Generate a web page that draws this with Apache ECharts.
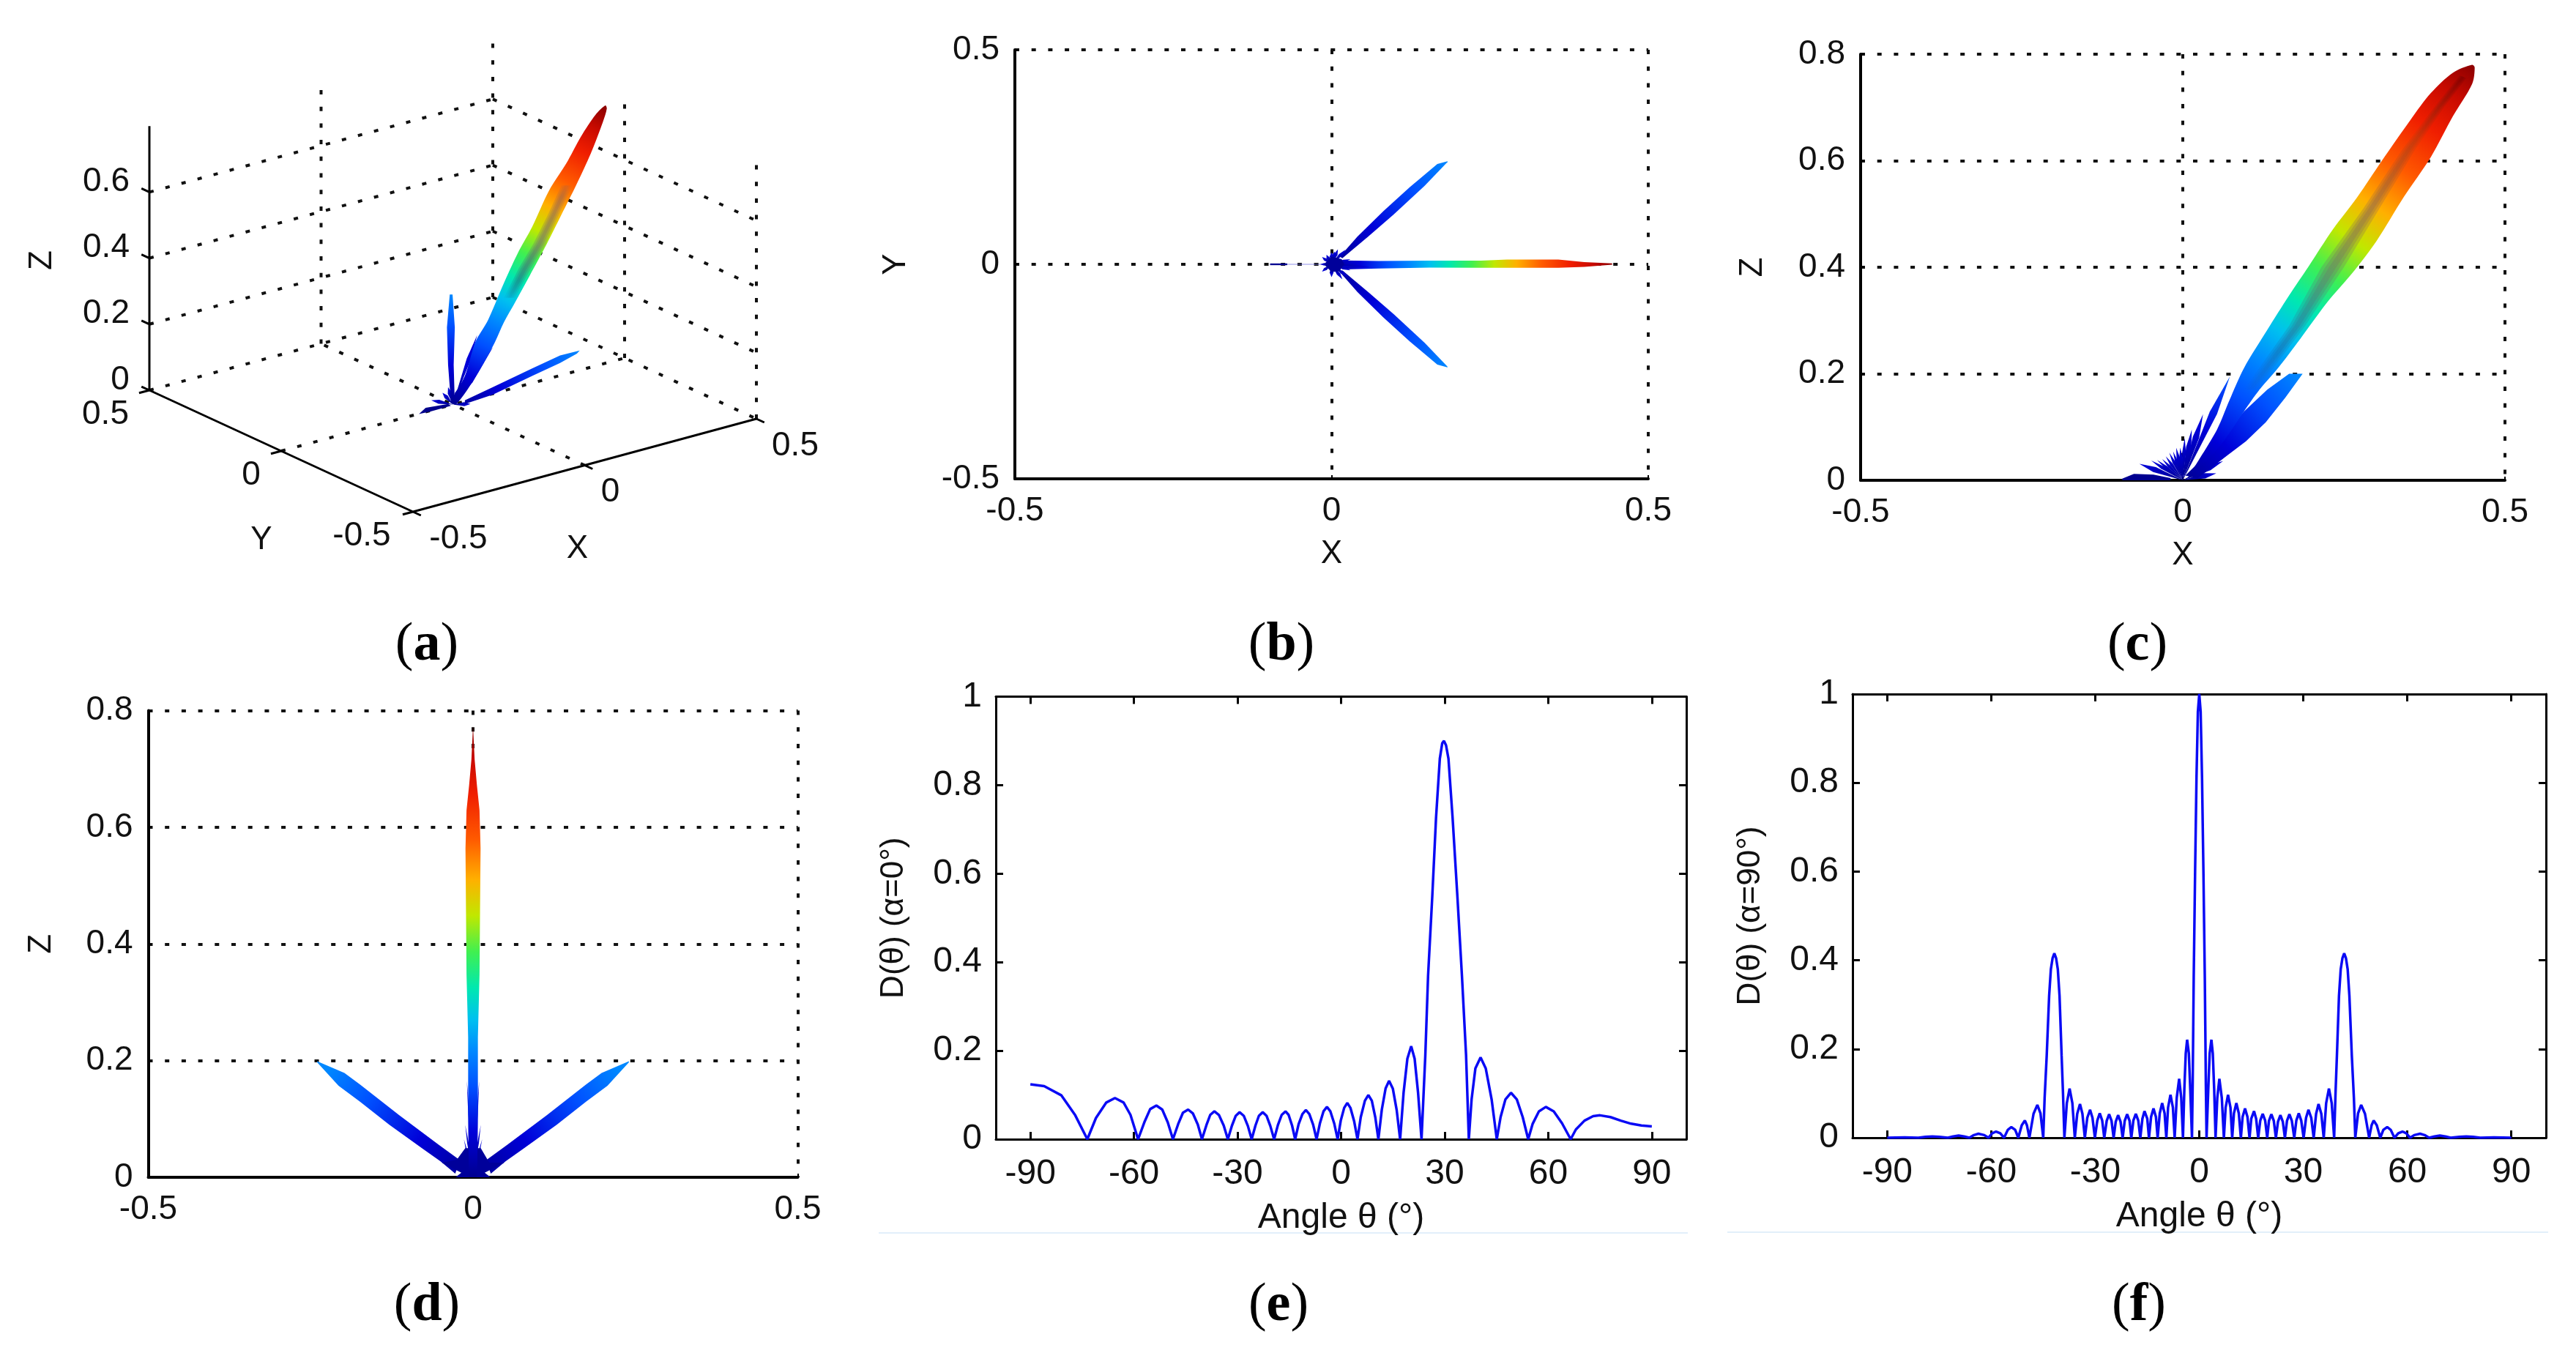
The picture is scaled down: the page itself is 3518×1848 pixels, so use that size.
<!DOCTYPE html>
<html><head><meta charset="utf-8">
<style>html,body{margin:0;padding:0;background:#fff}#c{width:3518px;height:1848px}</style>
<script src="https://cdn.jsdelivr.net/npm/echarts@6/dist/echarts.min.js"></script>
</head><body><div id="c"></div>
<script>
// ---- tick values ----
const ticksXY = [-0.5, 0, 0.5];
const ticksZ3d = [0, 0.2, 0.4, 0.6];
const ticksAngle = [-90, -60, -30, 0, 30, 60, 90];
const captions = ['a', 'b', 'c', 'd', 'e', 'f'];

// ---- jet colour map (value, colour) ----
const jetPos = [0, .1, .2, .28, .35, .42, .5, .58, .66, .75, .85, .93, 1];
const jetCol = ['#000090', '#0000d8', '#0050ff', '#0088ff', '#00c0f0', '#00e8b0', '#40f050', '#c0e800', '#ffb000', '#ff5a00', '#f01e00', '#c80a00', '#8c0000'];

// ---- (e) D(theta), alpha = 0 ----
const thetaE = [-90,-86,-81,-77,-73.5,-71,-68,-65.5,-63,-61,-58.8,-57,-55.3,-53.5,-51.8,-50.2,-48.7,-47.2,-45.8,-44.3,-42.9,-41.5,-40.3,-39,-37.9,-36.7,-35.4,-34,-32.8,-31.6,-30.5,-29.4,-28.2,-27,-25.9,-24.8,-23.8,-22.7,-21.6,-20.5,-19.4,-18.3,-17.2,-16.1,-15.2,-14.2,-13.3,-12.3,-11.2,-10.2,-9.2,-8.1,-7.1,-6.1,-5.1,-4.1,-3.1,-2,-1,-.1,.9,1.8,2.7,3.8,4.75,5.7,6.9,7.9,8.9,9.9,10.8,11.8,12.9,13.9,15,16.1,17.1,18.1,19.2,20.3,21.3,22.3,23.3,24.4,25.2,26.4,27.5,28.6,29.3,29.8,30.4,31.1,32.3,33.7,35,36.2,37,37.8,38.9,40.4,41.9,43.6,45.1,46.2,47.6,49.2,50.9,52.6,54.2,55.5,57.3,59.3,61.6,64,66.5,68,70.5,73,75,78,81,84,87,90];
const valueE = [.124,.12,.099,.054,0,.048,.083,.093,.083,.055,0,.038,.068,.076,.067,.038,0,.034,.06,.067,.058,.033,0,.032,.055,.063,.055,.031,0,.031,.053,.061,.053,.03,0,.031,.053,.061,.053,.03,0,.032,.055,.063,.055,.031,0,.034,.057,.066,.057,.033,0,.037,.063,.073,.063,.036,0,.042,.071,.082,.071,.04,0,.05,.087,.1,.087,.05,0,.067,.115,.132,.114,.066,0,.105,.182,.21,.182,.105,0,.19,.37,.547,.726,.86,.895,.9,.89,.86,.726,.547,.37,.19,0,.09,.16,.185,.16,.09,0,.05,.09,.105,.09,.05,0,.035,.063,.073,.063,.036,0,.022,.042,.052,.054,.05,.042,.035,.031,.029];

// ---- (f) D(theta), alpha = 90 : right half, the picture is symmetric ----
const thetaFRight = [0,.4,.8,1.2,1.6,1.9,2.1,2.6,3,3.5,3.9,4.3,4.7,5.2,5.8,6.5,7.1,7.6,8.3,9,9.5,10,10.7,11.4,12,12.5,13.2,13.9,14.5,15,15.8,16.4,17,17.6,18.3,19,19.6,20.1,20.8,21.5,22.1,22.7,23.4,24.1,24.7,25.3,26,26.7,27.4,28,28.7,29.4,30.1,30.8,31.5,32.3,33,33.7,34.4,35.2,35.9,36.6,37.4,38.2,38.9,39.3,39.7,40.3,40.8,41.3,41.8,42.3,42.8,43.3,44,44.6,45,45.8,46.7,47.8,49,49.7,50.3,51.2,52.2,53.1,54.2,55.2,56.3,57.4,58.6,59.7,60.8,62,63.7,65,66.3,67.8,69.4,71,72.5,75,77,79,81,85,90];
const valueFRight = [1,.96,.81,.6,.36,.12,0,.11,.19,.221,.19,.11,0,.09,.133,.09,0,.068,.097,.068,0,.055,.078,.055,0,.047,.066,.047,0,.043,.06,.043,0,.039,.054,.039,0,.038,.053,.038,0,.036,.051,.036,0,.038,.053,.038,0,.039,.055,.039,0,.045,.063,.045,0,.054,.076,.054,0,.078,.111,.078,0,.1,.185,.32,.38,.405,.4155,.405,.38,.32,.185,.09,0,.055,.074,.054,0,.028,.039,.028,0,.018,.024,.018,0,.01,.014,.01,0,.006,.009,.006,0,.003,.005,.003,0,.002,.003,.002,0,.001,0];

// ---- (c) X-Z outline of the lobes, tip to base ----
const cMainLeftX = [.449,.419,.385,.353,.309,.271,.233,.195,.165,.131,.0947,.072,.053,.0076];
const cMainLeftZ = [.78,.765,.727,.676,.6,.532,.471,.401,.347,.282,.21,.149,.095,.0037];
const cMainRightX = [.453,.449,.419,.385,.343,.301,.267,.224,.182,.148,.119,.0947,.055,.013];
const cMainRightZ = [.775,.744,.683,.607,.532,.45,.395,.334,.265,.211,.17,.129,.06,.009];
const cCoreLeftX = [.43,.39,.34,.28,.215,.165,.095];
const cCoreLeftZ = [.76,.7,.62,.51,.4,.29,.17];
const cCoreRightX = [.44,.405,.36,.305,.25,.19,.115];
const cCoreRightZ = [.755,.7,.62,.51,.4,.29,.17];
const cSideUpperX = [.165,.131,.0947,.047,.004];
const cSideUpperZ = [.2,.17,.129,.06,.009];
const cSideLowerX = [.186,.159,.1288,.098,.068,.0379,.0227];
const cSideLowerZ = [.2,.155,.109,.0733,.0458,.0174,.0037];
const cSpikeX = [.0731,.0314,.014,.003,-.004,-.0102,-.015,-.021,-.0265,-.032,-.04,-.049,-.0674,.0625,.052];
const cSpikeZ = [.1948,.1242,.0953,.0793,.061,.061,.054,.052,.045,.04,.038,.037,.031,.036,.013];
const cSpikeHalf = [.006,.005,.004,.003,.003,.003,.0025,.0025,.0025,.0025,.0025,.003,.005,.005,.005];
const cBackX = [-.094,-.0758,-.0455,-.019,-.019,-.094];
const cBackZ = [.003,.012,.0105,.004,0,0];

// ---- (b) X-Y outline ----
const bMainX = [.017,.074,.155,.236,.277,.358,.399,.443];
const bMainTop = [.009,.0076,.0085,.0085,.011,.011,.005,.002];
const bMainBottom = [-.012,-.01,-.0076,-.008,-.008,-.008,-.006,-.001];
const bSideLeftX = [.183,.167,.123,.082,.041,.013];
const bSideLeftY = [.24,.234,.179,.124,.065,.018];
const bSideRightX = [.183,.175,.147,.098,.058,.017];
const bSideRightY = [.2385,.226,.183,.116,.065,.014];
const bSpikeX = [.03,.03,-.015,-.018,-.015,.01,.017,.005,.022,.026,0,0,.032,-.008,.04,.06];
const bSpikeY = [.012,-.014,.017,0,-.017,.035,-.035,.03,.034,-.03,-.03,.028,-.006,.022,.006,-.006];
const bBlobX = [-.012,0,.016,.02,.012,0];
const bBlobY = [0,.018,.012,0,-.016,-.018];
const bBackX = [-.097,-.07];

// ---- (d) Y-Z outline ----
const dMainZ = [.773,.716,.672,.629,.564,.456,.348,.24,.168,.096,.024,0];
const dMainHalf = [0,.0025,.006,.01,.0116,.0108,.01,.0075,.0075,.0075,.0066,.006];
const dSideUpperY = [.24,.198,.174,.1139,.0537,.02];
const dSideUpperZ = [.199,.179,.159,.1067,.0565,.0293];
const dSideLowerY = [.24,.207,.174,.1289,.0763,.05,.0274];
const dSideLowerZ = [.197,.157,.1297,.09,.0481,.0272,.0063];
const dBaseY = [-.027,-.018,-.048,-.025,-.012,.012,.025,.048,.018,.027];
const dBaseZ = [0,.008,.025,.03,.05,.05,.025,.025,.008,0];
const dThinY = [.0095,.012,.014];
const dThinZ = [.165,.09,.065];

// ---- (a) lobes read in the view plane of the 3-D box, tip to base ----
const aMainLeftU = [.4439,.4154,.3727,.3301,.2804,.2307,.188,.1454,.1028,.065,.0349,-.0058];
const aMainLeftV = [.9058,.8776,.8111,.7299,.6486,.5377,.4564,.3603,.2568,.1881,.0863,.0072];
const aMainRightU = [.4482,.4367,.4012,.3586,.316,.2733,.2235,.1808,.1488,.122,.0676,.0105];
const aMainRightV = [.8962,.8554,.7594,.6634,.5747,.486,.3898,.3086,.2494,.1881,.0863,.0015];
const aCoreLeftU = [.316,.2768,.2342,.1915,.1488];
const aCoreRightU = [.348,.3088,.2698,.2271,.1808];
const aCoreV = [.6634,.5747,.486,.412,.3233];
const aSideAU1 = [-.0091,-.0173,-.014,-.0058];
const aSideAV1 = [.3329,.2334,.1203,.0072];
const aSideAU2 = [-.001,.0056,.0023,.0056];
const aSideAV2 = [.3329,.2334,.1203,.0015];
const aSideBU1 = [.3693,.3122,.2307,.1165,.0349];
const aSideBV1 = [.1633,.1486,.109,.0524,.0128];
const aSideBU2 = [.3611,.3122,.2307,.1165,.0349];
const aSideBV2 = [.1542,.1259,.0864,.0298,.0015];
const aSpikeU = [.0708,.1165,.0806,-.0303,-.0629,.0512,.0186,-.014];
const aSpikeV = [.2108,.1734,.109,.0355,.0128,.0015,.0524,.0524];
const aBackU = [-.0988,-.0792,-.014,-.0058,-.0629];
const aBackV = [-.029,-.0098,.0015,-.004,-.0207];
const zWallTop = 0.78, zAxisTop = 0.8;

// ---- helpers ----
const FONT = '"Liberation Sans", Arial, sans-serif';
const zip = (a, b) => a.map((v, i) => [v, b[i]]);
const outline = (ax, ay, bx, by) => zip(ax, ay).concat(zip(bx, by).reverse());
const neg = a => a.map(v => -v);
function jetStops(maxV) {
  const s = [];
  jetPos.forEach((p, i) => { if (p <= maxV) s.push({ offset: p / maxV, color: jetCol[i] }); });
  return s;
}
function spikes(xs, ys, w, maxScale) {
  return xs.map((x, i) => {
    const y = ys[i], L = Math.hypot(x, y) || 1;
    const hw = Array.isArray(w) ? w[i] : w, nx = -y / L * hw, ny = x / L * hw;
    return {
      pts: [[0, 0], [x * .65 + nx, y * .65 + ny], [x, y], [x * .65 - nx, y * .65 - ny]],
      from: [0, 0], to: [x, y], stops: jetStops(Math.max(L * maxScale, .11))
    };
  });
}
// soft dark core: nested strips between the two edges
function coreLayers(lx, ly, rx, ry, from, to, stops) {
  return [1, .66, .33].map(f => {
    const mix = (a, b, k) => a.map((v, i) => v + (b[i] - v) * k);
    const k = (1 - f) / 2;
    return {
      pts: outline(mix(lx, rx, k), mix(ly, ry, k), mix(rx, lx, k), mix(ry, ly, k)),
      from, to, stops
    };
  });
}
function shapeSeries(idx, shapes) {
  return {
    type: 'custom', coordinateSystem: 'cartesian2d', xAxisIndex: idx.x, yAxisIndex: idx.y,
    silent: true, animation: false, clip: false, z: 5,
    data: shapes.map((s, i) => [i, i]),
    renderItem(params, api) {
      const s = shapes[params.dataIndex];
      const points = s.pts.map(p => api.coord(p));
      let fill = s.fill;
      if (s.from) {
        const a = api.coord(s.from), b = api.coord(s.to);
        fill = new echarts.graphic.LinearGradient(a[0], a[1], b[0], b[1], s.stops, true);
      }
      const shape = { points };
      if (s.smooth) shape.smooth = s.smooth;
      return { type: 'polygon', shape, style: { fill } };
    }
  };
}

// ---- axes ----
const grid = [], xAxis = [], yAxis = [], series = [];
const dashPattern = [6, 16.7];
const dots = { show: true, lineStyle: { color: '#111', width: 4, type: dashPattern } };
const blackLine = { show: true, onZero: false, lineStyle: { color: '#000', width: 4 } };
const labelStyle = { color: '#111', fontFamily: FONT, fontSize: 46 };
function lobePanel(rect, xMin, xMax, yMin, yMax, yStep, yName, yGap, xName) {
  grid.push(rect);
  const gi = grid.length - 1;
  xAxis.push({
    type: 'value', gridIndex: gi, min: xMin, max: xMax, interval: .5, axisLine: blackLine,
    axisTick: { show: true, inside: true, length: 5, lineStyle: { color: '#000', width: 2 } },
    axisLabel: { ...labelStyle, margin: 21 }, splitLine: dots,
    name: xName, nameLocation: 'middle', nameGap: 81,
    nameTextStyle: { color: '#111', fontFamily: FONT, fontSize: 44 }
  });
  yAxis.push({
    type: 'value', gridIndex: gi, min: yMin, max: yMax, interval: yStep, axisLine: blackLine,
    axisTick: { show: true, inside: true, length: 5, lineStyle: { color: '#000', width: 2 } },
    axisLabel: { ...labelStyle, margin: 21 }, splitLine: dots,
    name: yName, nameLocation: 'middle', nameGap: yGap,
    nameTextStyle: { color: '#111', fontFamily: FONT, fontSize: 44 }
  });
  return { x: xAxis.length - 1, y: yAxis.length - 1 };
}
function linePanel(rect, name, xs, ys) {
  grid.push(rect);
  const gi = grid.length - 1;
  const tick = { show: true, inside: true, length: 10, lineStyle: { color: '#000', width: 3 } };
  const x0 = xAxis.length, y0 = yAxis.length;
  const box = { show: true, onZero: false, lineStyle: { color: '#000', width: 3 } };
  xAxis.push({
    type: 'value', gridIndex: gi, position: 'bottom', min: -100, max: 100, axisLine: box,
    axisTick: { ...tick, customValues: ticksAngle },
    axisLabel: { ...labelStyle, fontSize: 48, margin: 24, customValues: ticksAngle }, splitLine: { show: false },
    name: 'Angle θ (°)', nameLocation: 'middle', nameGap: 84,
    nameTextStyle: { color: '#111', fontFamily: FONT, fontSize: 48 }
  }, {
    type: 'value', gridIndex: gi, position: 'top', min: -100, max: 100, axisLine: box,
    axisTick: { ...tick, customValues: ticksAngle }, axisLabel: { show: false }, splitLine: { show: false }
  });
  yAxis.push({
    type: 'value', gridIndex: gi, position: 'left', min: 0, max: 1, interval: .2, axisLine: box,
    axisTick: tick, axisLabel: { ...labelStyle, fontSize: 48, margin: 19 }, splitLine: { show: false },
    name, nameLocation: 'middle', nameGap: 117,
    nameTextStyle: { color: '#111', fontFamily: FONT, fontSize: 44 }
  }, {
    type: 'value', gridIndex: gi, position: 'right', min: 0, max: 1, interval: .2, axisLine: box,
    axisTick: tick, axisLabel: { show: false }, splitLine: { show: false }
  });
  series.push({
    type: 'line', xAxisIndex: x0, yAxisIndex: y0, data: zip(xs, ys), showSymbol: false, symbol: 'none',
    animation: false, silent: true, z: 4, lineStyle: { color: '#0a0af5', width: 3.5 }
  });
}

// ---- (a) hidden view-plane axes with the 3-D box projected onto them ----
const view = (x, y, z) => [x - .7676 * y, .2816 * x + .3681 * y + z];
grid.push({ left: 100, top: 20, width: 1050, height: 760 });
xAxis.push({ type: 'value', gridIndex: 0, show: false, min: -1.10554, max: 1.13326, splitLine: { show: false } });
yAxis.push({ type: 'value', gridIndex: 0, show: false, min: -.50443, max: 1.18071, splitLine: { show: false } });
const solidSeg = [], dotSeg = [];
const seg = (arr, a, b) => arr.push(view(...a), view(...b), ['-', '-']);
seg(solidSeg, [-.5, .5, 0], [-.5, .5, zAxisTop]);
seg(solidSeg, [-.5, .5, 0], [-.5, -.5, 0]);
seg(solidSeg, [-.5, -.5, 0], [.5, -.5, 0]);
ticksZ3d.forEach(z => seg(solidSeg, [-.5, .5, z], [-.5, .53, z]));
ticksXY.forEach(v => { seg(solidSeg, [-.53, v, 0], [-.5, v, 0]); seg(solidSeg, [v, -.53, 0], [v, -.5, 0]); });
ticksZ3d.forEach(z => {
  seg(dotSeg, [-.5, .5, z], [.5, .5, z]);
  seg(dotSeg, [.5, .5, z], [.5, -.5, z]);
});
seg(dotSeg, [-.5, 0, 0], [.5, 0, 0]);
seg(dotSeg, [0, -.5, 0], [0, .5, 0]);
[[0, .5], [.5, .5], [.5, 0], [.5, -.5]].forEach(([x, y]) => seg(dotSeg, [x, y, 0], [x, y, zWallTop]));
const lineCommon = { type: 'line', xAxisIndex: 0, yAxisIndex: 0, showSymbol: false, symbol: 'none', animation: false, silent: true, connectNulls: false };
series.push({ ...lineCommon, data: dotSeg, z: 2, lineStyle: { color: '#111', width: 4, type: dashPattern } });
series.push({ ...lineCommon, data: solidSeg, z: 3, lineStyle: { color: '#000', width: 3 } });
const aTip = [.445, .9];
const coreStopsA = [
  { offset: .34, color: 'rgba(20,70,130,0)' }, { offset: .42, color: 'rgba(40,90,120,.22)' },
  { offset: .56, color: 'rgba(120,110,110,.3)' }, { offset: .7, color: 'rgba(140,90,90,.22)' }, { offset: .76, color: 'rgba(140,90,90,0)' }
];
series.push(shapeSeries({ x: 0, y: 0 }, [
  { pts: zip(aBackU, aBackV), fill: '#00008c' },
  ...spikes(aSpikeU, aSpikeV, .006, .8),
  { pts: outline(aSideAU1, aSideAV1, aSideAU2, aSideAV2), from: [0, 0], to: [-.005, .3329], stops: jetStops(.28) },
  { pts: outline(aSideBU1, aSideBV1, aSideBU2, aSideBV2), from: [0, 0], to: [.369, .16], stops: jetStops(.28) },
  { pts: outline(aMainLeftU, aMainLeftV, aMainRightU, aMainRightV), from: [0, 0], to: aTip, stops: jetStops(1), smooth: .3 },
  ...coreLayers(aCoreLeftU, aCoreV, aCoreRightU, aCoreV, [0, 0], aTip, coreStopsA)
]));
// tick texts and names of the 3-D box
const aTexts = [];
ticksZ3d.forEach(z => aTexts.push({ at: view(-.5, .5, z), dx: z === 0 ? -40 : -59, dy: -14, t: String(z) }));
ticksXY.forEach(v => aTexts.push({ at: view(-.5, v, 0), dx: v < 0 ? -70 : (v === 0 ? -41 : -60), dy: 33, t: String(v) }));
ticksXY.forEach(v => aTexts.push({ at: view(v, -.5, 0), dx: v < 0 ? 62 : (v === 0 ? 35 : 53), dy: 37, t: String(v) }));
aTexts.push({ at: view(-.5, .5, .4), dx: -146, dy: 3, t: 'Z', rot: true, size: 44 });
aTexts.push({ at: view(-.5, 0, 0), dx: -27, dy: 122, t: 'Y', size: 44 });
aTexts.push({ at: view(0, -.5, 0), dx: -10, dy: 114, t: 'X', size: 44 });
series.push({
  type: 'custom', coordinateSystem: 'cartesian2d', xAxisIndex: 0, yAxisIndex: 0, silent: true, animation: false, z: 6, clip: false,
  data: aTexts.map((s, i) => [i, i]),
  renderItem(params, api) {
    const s = aTexts[params.dataIndex], p = api.coord(s.at);
    return {
      type: 'text', x: p[0] + s.dx, y: p[1] + s.dy, rotation: s.rot ? Math.PI / 2 : 0,
      style: { text: s.t, font: (s.size || 46) + 'px ' + FONT, fill: '#111', align: 'center', verticalAlign: 'middle' }
    };
  }
});

// ---- (b) ----
const b = lobePanel({ left: 1386, top: 68, width: 865, height: 586 }, -.5, .5, -.5, .5, .5, 'Y', 140, 'X');
series.push(shapeSeries(b, [
  { pts: [[-.097, .0016], [0, .0016], [0, -.0016], [-.097, -.0016]], fill: 'rgba(110,110,225,.38)' },
  { pts: [[bBackX[0], .002], [bBackX[1], .002], [bBackX[1], -.002], [bBackX[0], -.002]], fill: '#000090' },
  { pts: outline(bSideLeftX, bSideLeftY, bSideRightX, bSideRightY), from: [0, 0], to: [.183, .24], stops: jetStops(.28) },
  { pts: outline(bSideLeftX, neg(bSideLeftY), bSideRightX, neg(bSideRightY)), from: [0, 0], to: [.183, -.24], stops: jetStops(.28) },
  { pts: outline(bMainX, bMainTop, bMainX, bMainBottom), from: [0, 0], to: [.443, 0], stops: jetStops(1) },
  ...spikes(bSpikeX, bSpikeY, .003, 1),
  { pts: zip(bBlobX, bBlobY), fill: '#00009a' }
]));

// ---- (c) ----
const c = lobePanel({ left: 2541, top: 74, width: 880, height: 582 }, -.5, .5, 0, .8, .2, 'Z', 125, 'X');
const coreStopsC = [
  { offset: .2, color: 'rgba(30,90,170,0)' }, { offset: .32, color: 'rgba(30,90,150,.18)' },
  { offset: .5, color: 'rgba(110,110,110,.28)' }, { offset: .66, color: 'rgba(140,100,80,.28)' },
  { offset: .82, color: 'rgba(150,60,20,.16)' }, { offset: .96, color: 'rgba(120,0,0,.26)' }
];
series.push(shapeSeries(c, [
  { pts: zip(cBackX, cBackZ), fill: '#000090' },
  ...spikes(cSpikeX, cSpikeZ, cSpikeHalf, 1),
  { pts: outline(cSideUpperX, cSideUpperZ, cSideLowerX, cSideLowerZ), from: [0, 0], to: [.178, .2], stops: jetStops(.28) },
  { pts: outline(cMainLeftX, cMainLeftZ, cMainRightX, cMainRightZ), from: [0, 0], to: [.45, .78], stops: jetStops(1), smooth: .3 },
  ...coreLayers(cCoreLeftX, cCoreLeftZ, cCoreRightX, cCoreRightZ, [0, 0], [.45, .78], coreStopsC)
]));

// ---- (d) ----
const d = lobePanel({ left: 202.5, top: 970.6, width: 887, height: 637.4 }, -.5, .5, 0, .8, .2, 'Z', 124, '');
series.push(shapeSeries(d, [
  ...spikes(dThinY, dThinZ, .0012, 1.2),
  ...spikes(neg(dThinY), dThinZ, .0012, 1.2),
  { pts: outline(dSideUpperY, dSideUpperZ, dSideLowerY, dSideLowerZ), from: [0, 0], to: [.24, .198], stops: jetStops(.3) },
  { pts: outline(neg(dSideUpperY), dSideUpperZ, neg(dSideLowerY), dSideLowerZ), from: [0, 0], to: [-.24, .198], stops: jetStops(.3) },
  { pts: zip(dBaseY, dBaseZ), fill: '#00009a' },
  { pts: outline(neg(dMainHalf), dMainZ, dMainHalf, dMainZ), from: [0, 0], to: [0, .773], stops: jetStops(1) }
]));

// ---- (e), (f) ----
linePanel({ left: 1360, top: 951.5, width: 943, height: 604.5 }, 'D(θ) (α=0°)', thetaE, valueE);
const thetaF = thetaFRight.slice(1).reverse().map(v => -v).concat(thetaFRight);
const valueF = valueFRight.slice(1).reverse().concat(valueFRight);
linePanel({ left: 2530, top: 948, width: 947, height: 606 }, 'D(θ) (α=90°)', thetaF, valueF);

// ---- captions and separators ----
const capX = [583, 1750, 2919, 583, 1746, 2921], capY = [882, 882, 882, 1784, 1784, 1784];
const graphic = captions.map((t, i) => ({
  type: 'text', x: capX[i], y: capY[i], silent: true,
  style: {
    text: '{p|(}{l|' + t + '}{p|)}', align: 'center', verticalAlign: 'middle',
    rich: {
      p: { font: '74px "Liberation Serif", serif', fill: '#000' },
      l: { font: 'bold 74px "Liberation Serif", serif', fill: '#000' }
    }
  }
}));
graphic.push(
  { type: 'line', silent: true, shape: { x1: 1200, y1: 1684, x2: 2305, y2: 1684 }, style: { stroke: '#e2effa', lineWidth: 2 } },
  { type: 'line', silent: true, shape: { x1: 2359, y1: 1683, x2: 3480, y2: 1683 }, style: { stroke: '#e2effa', lineWidth: 2 } }
);

const chart = echarts.init(document.getElementById('c'), null, { renderer: 'canvas', width: 3518, height: 1848 });
chart.setOption({ backgroundColor: '#fff', animation: false, grid, xAxis, yAxis, series, graphic });
</script></body></html>
